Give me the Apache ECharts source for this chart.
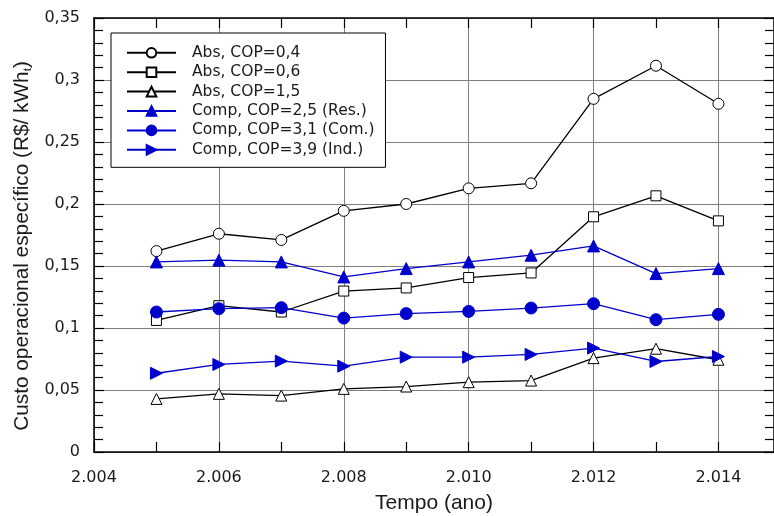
<!DOCTYPE html>
<html>
<head>
<meta charset="utf-8">
<script src="https://cdn.jsdelivr.net/npm/echarts@6/dist/echarts.min.js"></script>
<style>
  html, body { margin: 0; padding: 0; background: #fff; }
  #chart { width: 774px; height: 516px; }
</style>
</head>
<body>
<div id="chart"></div>
<script>
// anos
const years = [2005, 2006, 2007, 2008, 2009, 2010, 2011, 2012, 2013, 2014]

// custo operacional específico (R$/kWh_t)
const absCop04 = [0.162, 0.176, 0.171, 0.1945, 0.200, 0.2126, 0.2167, 0.2848, 0.3115, 0.2808]
const absCop06 = [0.1061, 0.118, 0.1129, 0.1298, 0.1323, 0.1407, 0.1444, 0.1897, 0.2066, 0.1864]
const absCop15 = [0.0428, 0.0469, 0.0455, 0.0509, 0.0528, 0.0563, 0.0576, 0.0757, 0.0833, 0.0744]
const compCop25 = [0.1533, 0.1547, 0.1533, 0.1412, 0.1479, 0.1533, 0.1587, 0.1662, 0.1439, 0.1479]
const compCop31 = [0.1129, 0.1156, 0.1164, 0.108, 0.1116, 0.1134, 0.1161, 0.1196, 0.1067, 0.111]
const compCop39 = [0.0635, 0.0706, 0.0733, 0.0692, 0.0765, 0.0765, 0.0787, 0.0838, 0.073, 0.077]

const names = [
  'Abs, COP=0,4',
  'Abs, COP=0,6',
  'Abs, COP=1,5',
  'Comp, COP=2,5 (Res.)',
  'Comp, COP=3,1 (Com.)',
  'Comp, COP=3,9 (Ind.)'
]

const BLUE = '#0000cc'
const TXT = '#1a1a1a'
const pairs = (vals) => years.map((y, i) => [y, vals[i]])

const fmtYear = (v) => {
  if (Math.abs(v - Math.round(v)) > 1e-6) return ''
  const s = String(Math.round(v))
  return s.slice(0, 1) + '.' + s.slice(1)
}
const fmtVal = (v) => String(+v.toFixed(2)).replace('.', ',')

const myChart = echarts.init(document.getElementById('chart'))

const makeSeries = (name, vals, symbol, size, color, hollow, rotate) => ({
  name,
  type: 'line',
  data: pairs(vals),
  symbol,
  symbolSize: size,
  symbolRotate: rotate || 0,
  showAllSymbol: true,
  lineStyle: { color, width: 1.3 },
  itemStyle: hollow
    ? { color: '#fff', borderColor: color, borderWidth: 1 }
    : { color, borderColor: color, borderWidth: 1 },
  emphasis: { disabled: true },
  animation: false
})

const tickStyle = { color: '#000', width: 1.2 }

const option = {
  animation: false,
  textStyle: { fontFamily: 'DejaVu Sans' },
  grid: { left: 94, right: 0, top: 18, bottom: 64, outerBoundsMode: 'none', containLabel: false },
  legend: {
    orient: 'vertical',
    left: 111,
    top: 33,
    data: names,
    itemWidth: 49,
    itemHeight: 12,
    itemGap: 3.4,
    padding: [11.8, 11, 9.5, 15],
    borderColor: '#000',
    borderWidth: 1,
    backgroundColor: '#fff',
    textStyle: { fontFamily: 'DejaVu Sans', fontSize: 15.5, color: TXT, padding: [0, 0, 0, 11] }
  },
  xAxis: [
    {
      type: 'value',
      min: 2004,
      max: 2014.89,
      interval: 2,
      name: 'Tempo (ano)',
      nameLocation: 'middle',
      nameGap: 41,
      nameTextStyle: { fontFamily: 'Liberation Sans', fontSize: 21, color: TXT, verticalAlign: 'top' },
      axisLine: { show: true, lineStyle: { color: '#000', width: 1.5 } },
      axisTick: { show: true, inside: true, length: 10, lineStyle: tickStyle },
      minorTick: { show: true, splitNumber: 2, length: 10, lineStyle: tickStyle },
      axisLabel: { formatter: fmtYear, fontSize: 16, color: TXT, margin: 18, showMaxLabel: false },
      splitLine: { show: true, lineStyle: { color: '#7f7f7f', width: 1 } }
    },
    {
      type: 'value',
      position: 'top',
      min: 2004,
      max: 2014.89,
      interval: 2,
      axisLine: { show: true, onZero: false, lineStyle: { color: '#000', width: 1.5 } },
      axisTick: { show: true, inside: true, length: 10, lineStyle: tickStyle },
      minorTick: { show: true, splitNumber: 2, length: 10, lineStyle: tickStyle },
      axisLabel: { show: false },
      splitLine: { show: false }
    }
  ],
  yAxis: [
    {
      type: 'value',
      min: 0,
      max: 0.35,
      interval: 0.05,
      name: 'Custo operacional específico (R$/ kWh{sub|t})',
      nameLocation: 'middle',
      nameGap: 56,
      nameTextStyle: {
        fontFamily: 'Liberation Sans',
        fontSize: 20.8,
        color: TXT,
        padding: [0, 22, 0, 0],
        rich: {
          sub: { fontFamily: 'Liberation Sans', fontSize: 11.5, color: TXT, verticalAlign: 'bottom', padding: [10, 0, 0, 0] }
        }
      },
      axisLine: { show: true, lineStyle: { color: '#000', width: 1.5 } },
      axisTick: { show: true, inside: true, length: 10, lineStyle: tickStyle },
      minorTick: { show: true, splitNumber: 5, length: 9, lineStyle: tickStyle },
      axisLabel: { formatter: fmtVal, fontSize: 16, color: TXT, margin: 14 },
      splitLine: { show: true, lineStyle: { color: '#7f7f7f', width: 1 } }
    },
    {
      type: 'value',
      position: 'right',
      min: 0,
      max: 0.35,
      interval: 0.05,
      axisLine: { show: true, onZero: false, lineStyle: { color: '#000', width: 1.5 } },
      axisTick: { show: true, inside: true, length: 10, lineStyle: tickStyle },
      minorTick: { show: true, splitNumber: 5, length: 9, lineStyle: tickStyle },
      axisLabel: { show: false },
      splitLine: { show: false }
    }
  ],
  series: [
    makeSeries(names[0], absCop04, 'circle', 11, '#000', true),
    makeSeries(names[1], absCop06, 'rect', 10, '#000', true),
    makeSeries(names[2], absCop15, 'triangle', 11, '#000', true),
    makeSeries(names[3], compCop25, 'triangle', 12, BLUE, false),
    makeSeries(names[4], compCop31, 'circle', 12, BLUE, false),
    makeSeries(names[5], compCop39, 'triangle', 12, BLUE, false, -90)
  ]
}

myChart.setOption(option)
</script>
</body>
</html>
